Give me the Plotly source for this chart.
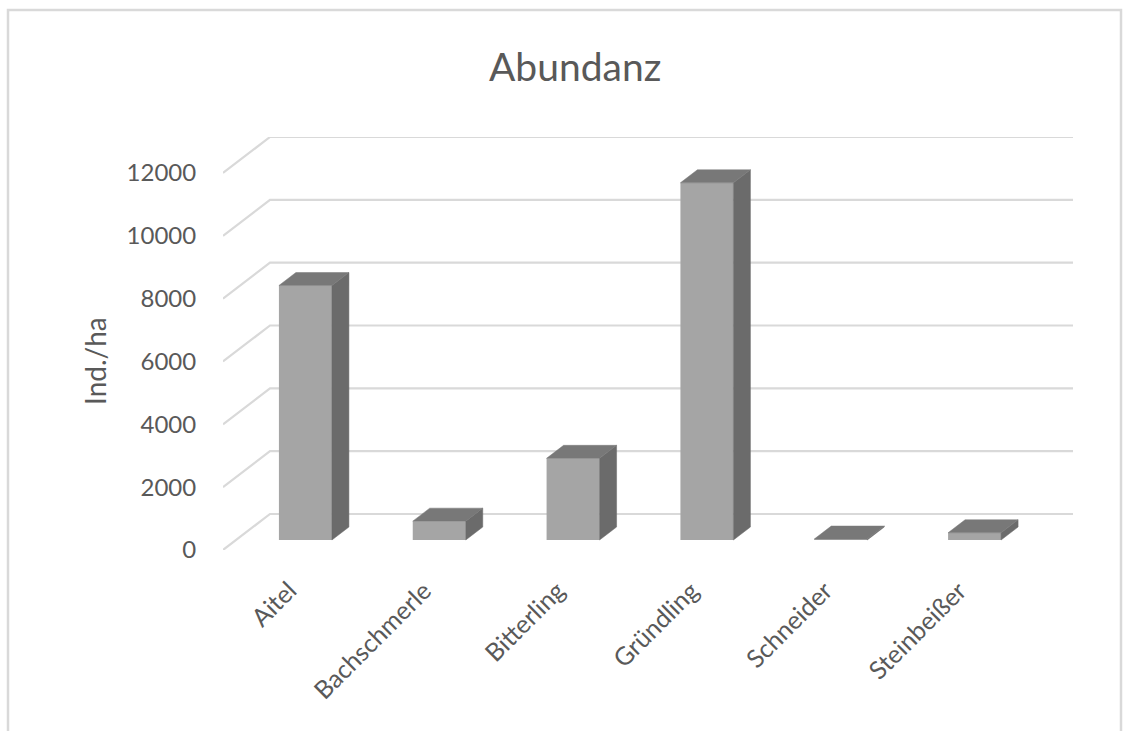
import numpy as np
import plotly.graph_objects as go

# ---- data ----
categories = ["Aitel", "Bachschmerle", "Bitterling", "Gründling", "Schneider", "Steinbeißer"]
values = [8100, 600, 2600, 11370, 30, 230]
tick_values = [0, 2000, 4000, 6000, 8000, 10000, 12000]
tick_labels = ["0", "2000", "4000", "6000", "8000", "10000", "12000"]
title_text = "Abundanz"
y_title = "Ind./ha"

# ---- geometry (pixel-based layout) ----
W, H = 1130, 731
L, R, T, B = 223, 57, 137, 181
pw, ph = W - L - R, H - T - B
n = len(categories)
plane_dx_px, plane_dy_px = 47, 36          # depth of the chart "box"
ux = (pw - plane_dx_px) / n                # px per category
plane_dx = plane_dx_px / ux
x_range = [-0.5, n - 0.5 + plane_dx]
y_top_val = 12000
uy = (ph - plane_dy_px) / y_top_val        # px per value unit
plane_dy = plane_dy_px / uy
y_range = [0, y_top_val + plane_dy]

bar_w = 53 / ux
face_dx = 15.5 / ux
face_dy = 10 / uy
depth_dx = 17 / ux
depth_dy = 13 / uy

grid_col = "#D9D9D9"
txt_col = "#595959"
front_col = "#A5A5A5"
top_col = "#787878"
side_col = "#6B6B6B"
FONT = "Lato"

fig = go.Figure()

# gridlines (wall + left diagonal) as shapes below the traces
for v in tick_values:
    x0, x1, x2 = x_range[0], x_range[0] + plane_dx, x_range[1]
    y0, y1 = v, v + plane_dy
    fig.add_shape(type="path", xref="x", yref="y",
                  path=f"M {x0},{y0} L {x1},{y1} L {x2},{y1}",
                  line=dict(color=grid_col, width=2.2), layer="below")

xs = np.arange(n) + face_dx
base = face_dy

# side and top faces
for xi, v in zip(xs, values):
    xl, xr = xi - bar_w / 2, xi + bar_w / 2
    top = base + v
    fig.add_trace(go.Scatter(
        x=[xr, xr, xr + depth_dx, xr + depth_dx, xr],
        y=[base, top, top + depth_dy, base + depth_dy, base],
        mode="lines", fill="toself", fillcolor=side_col,
        line=dict(color=side_col, width=0.5),
        hoverinfo="skip", showlegend=False))
    fig.add_trace(go.Scatter(
        x=[xl, xr, xr + depth_dx, xl + depth_dx, xl],
        y=[top, top, top + depth_dy, top + depth_dy, top],
        mode="lines", fill="toself", fillcolor=top_col,
        line=dict(color=top_col, width=0.5),
        hoverinfo="skip", showlegend=False))

# front faces
fig.add_trace(go.Bar(
    x=xs, y=values, base=[base] * n, width=bar_w,
    marker=dict(color=front_col, line=dict(width=0)),
    showlegend=False, hovertext=categories))

# category labels
for i, c in enumerate(categories):
    fig.add_annotation(
        x=i, y=0, xref="x", yref="y", text=c, showarrow=False,
        textangle=-45, xanchor="right", yanchor="top",
        xshift=15, yshift=-22,
        font=dict(family=FONT, size=25, color=txt_col))

# axis title
fig.add_annotation(
    x=(95 - L) / pw, y=(H - B - 361) / ph, xref="paper", yref="paper",
    text=y_title, showarrow=False, textangle=-90,
    xanchor="center", yanchor="middle",
    font=dict(family=FONT, size=28, color=txt_col))

# chart title
fig.add_annotation(
    x=(575 - L) / pw, y=(H - B - 66) / ph, xref="paper", yref="paper",
    text=title_text, showarrow=False, xanchor="center", yanchor="middle",
    font=dict(family=FONT, size=39, color=txt_col))

# outer border
fig.add_shape(
    type="rect", xref="paper", yref="paper",
    x0=(8 - L) / pw, x1=(1121 - L) / pw,
    y0=(H - B - 760) / ph, y1=(H - B - 10) / ph,
    line=dict(color=grid_col, width=2.5), fillcolor="rgba(0,0,0,0)", layer="below")

fig.update_layout(
    width=W, height=H,
    margin=dict(l=L, r=R, t=T, b=B, pad=0),
    paper_bgcolor="white", plot_bgcolor="white",
    showlegend=False,
    xaxis=dict(range=x_range, showgrid=False, zeroline=False, showline=False,
               showticklabels=False, ticks="", fixedrange=True),
    yaxis=dict(range=y_range, showgrid=False, zeroline=False, showline=False,
               tickvals=tick_values, ticktext=tick_labels,
               ticks="outside", ticklen=21, tickcolor="rgba(0,0,0,0)",
               tickfont=dict(family=FONT, size=24, color=txt_col), fixedrange=True),
)

fig.write_html("out.html")
